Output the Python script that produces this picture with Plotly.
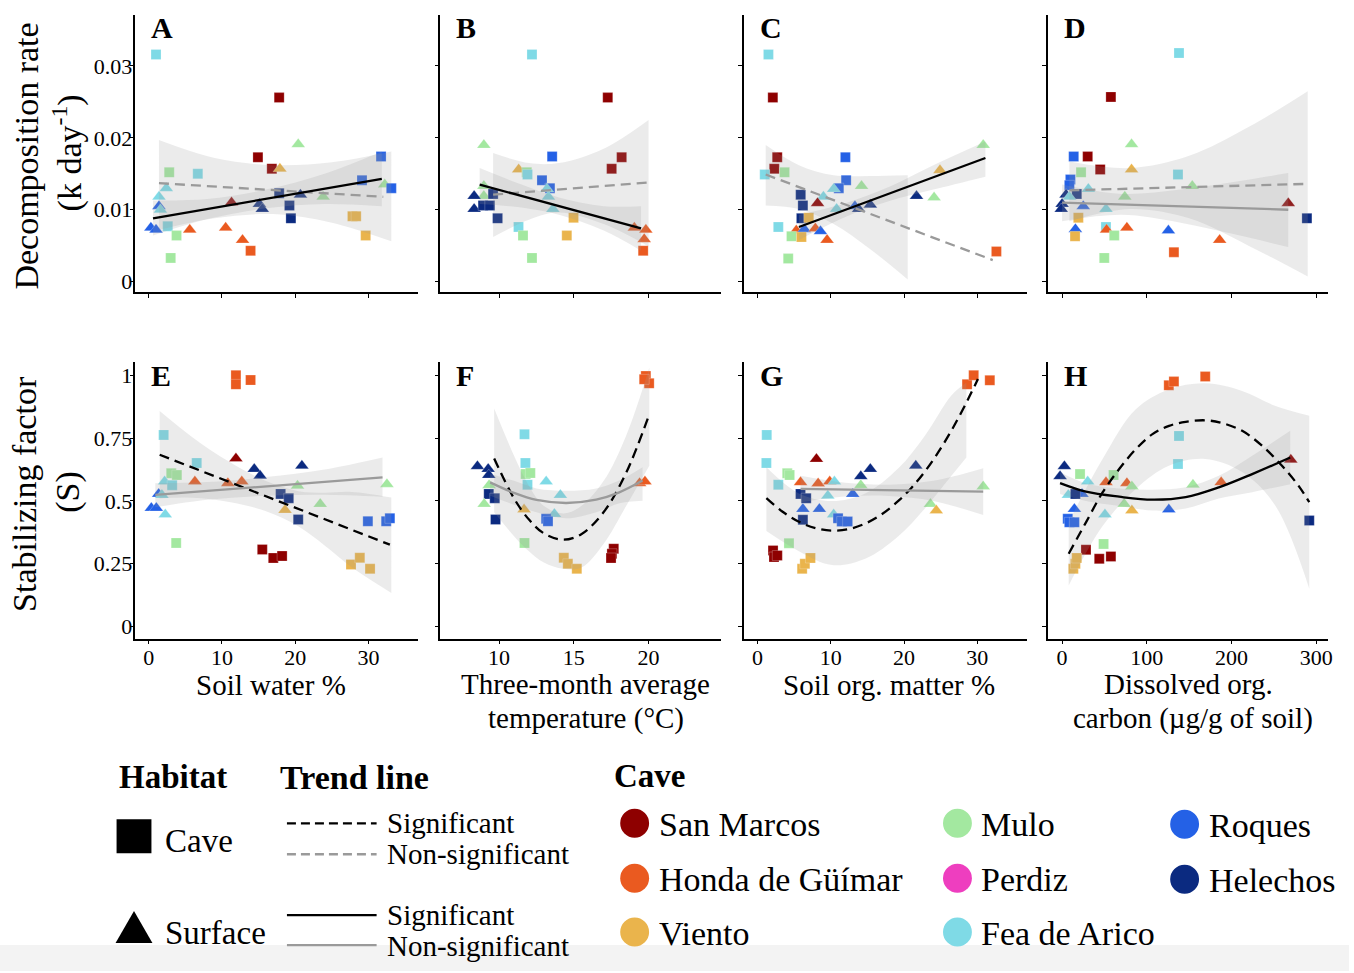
import plotly.graph_objects as go

W, H = 1354, 973
FONT = "Liberation Serif"

# ---------------- categories ----------------
CAVE_CODES = ["SM", "HG", "VI", "MU", "PE", "FA", "RO", "HE"]
CAVE_NAMES = ["San Marcos", "Honda de Güímar", "Viento", "Mulo", "Perdiz",
              "Fea de Arico", "Roques", "Helechos"]
CAVE_COLORS = ["#8E0000", "#EA5A20", "#EAB44C", "#A3E8A0", "#EE3EBF",
               "#7FDAE6", "#2461E6", "#0B2A80"]
HABITATS = ["C", "S"]            # C = Cave (square), S = Surface (triangle)

# ---------------- panel A : soil water vs decomposition ----------------
A_x = [1.0, 17.8, 20.4, 14.9, 16.8, 17.9, 2.8, 6.7, 31.7, 29.1, 32.2, 33.1, 2.4, 1.4, 17.8, 20.7, 23.8,
       15.1, 15.5, 11.3, 19.2, 19.4, 1.4, 1.6, 0.3, 1.0, 2.6, 3.8, 5.6, 10.5, 12.8, 13.9, 3.0, 27.8, 28.3, 29.6]
A_y = [0.0316, 0.0256, 0.0191, 0.0173, 0.0157, 0.0157, 0.0152, 0.0150, 0.0174, 0.0141, 0.0135, 0.0130,
       0.0130, 0.0118, 0.0123, 0.0121, 0.0118, 0.0108, 0.0101, 0.0110, 0.0106, 0.0088, 0.0105, 0.0100,
       0.0075, 0.0072, 0.0077, 0.0064, 0.0072, 0.0075, 0.0058, 0.0043, 0.0033, 0.0091, 0.0091, 0.0064]
A_cave = ["FA", "SM", "MU", "SM", "SM", "VI", "MU", "FA", "RO", "RO", "MU", "RO", "FA", "FA", "HE", "HE", "MU",
          "HE", "HE", "SM", "HE", "HE", "RO", "FA", "RO", "RO", "FA", "MU", "HG", "HG", "HG", "HG", "MU", "VI", "VI", "VI"]
A_hab = ["C", "C", "S", "C", "C", "S", "C", "C", "C", "C", "S", "C", "S", "S", "C", "S", "S",
         "S", "S", "S", "C", "C", "S", "S", "S", "S", "C", "C", "S", "S", "S", "C", "C", "C", "C", "C"]

# ---------------- panel B : temperature vs decomposition ----------------
B_x = [12.2, 17.27, 8.98, 13.55, 18.2, 17.53, 11.31, 11.85, 11.9, 12.87, 13.4, 13.2, 13.3, 13.6, 8.98, 8.98,
       8.33, 8.33, 8.93, 9.38, 9.6, 9.9, 11.3, 11.6, 12.2, 14.98, 14.53, 19.05, 19.82, 19.71, 19.64]
B_y = [0.0316, 0.0256, 0.0190, 0.0174, 0.0173, 0.0157, 0.0156, 0.0152, 0.0149, 0.0141, 0.0130, 0.0129,
       0.0118, 0.0101, 0.0133, 0.0119, 0.0119, 0.0101, 0.0106, 0.0106, 0.0122, 0.0088, 0.0076, 0.0064,
       0.0033, 0.0089, 0.0064, 0.0075, 0.0072, 0.0059, 0.0043]
B_cave = ["FA", "SM", "MU", "RO", "SM", "SM", "VI", "MU", "FA", "RO", "RO", "FA", "FA", "FA", "MU", "MU",
          "HE", "HE", "HE", "HE", "HE", "HE", "FA", "MU", "MU", "VI", "VI", "HG", "HG", "HG", "HG"]
B_hab = ["C", "C", "S", "C", "C", "C", "S", "C", "C", "C", "C", "S", "S", "S", "S", "S",
         "S", "S", "C", "C", "C", "C", "C", "C", "C", "C", "C", "S", "S", "S", "C"]

# ---------------- panel C : soil organic matter vs decomposition ----------------
C_x = [1.5, 2.1, 2.7, 2.3, 1.0, 3.7, 30.8, 24.9, 12.0, 12.1, 11.1, 10.4, 14.2, 5.9, 9.0, 8.2, 6.2, 21.7,
       24.1, 10.8, 13.3, 13.8, 15.4, 6.0, 7.0, 2.85, 5.3, 6.4, 7.9, 8.6, 9.5, 4.65, 6.0, 4.2, 32.6]
C_y = [0.0316, 0.0256, 0.0173, 0.0157, 0.0149, 0.0152, 0.0190, 0.0155, 0.0173, 0.0141, 0.0130, 0.0129,
       0.0133, 0.0121, 0.0118, 0.0109, 0.0106, 0.0119, 0.0117, 0.0101, 0.0105, 0.0101, 0.0107, 0.0088,
       0.0089, 0.0076, 0.0071, 0.0073, 0.0074, 0.0070, 0.0058, 0.0063, 0.0062, 0.0032, 0.0042]
C_cave = ["FA", "SM", "SM", "SM", "FA", "MU", "MU", "VI", "RO", "RO", "RO", "FA", "MU", "HE", "FA", "SM", "HE",
          "HE", "MU", "FA", "RO", "HE", "HE", "HE", "VI", "FA", "HG", "RO", "HG", "RO", "HG", "MU", "VI", "MU", "HG"]
C_hab = ["C", "C", "C", "C", "C", "C", "S", "S", "C", "C", "C", "S", "S", "C", "S", "S", "C",
         "S", "S", "S", "S", "S", "S", "C", "C", "C", "S", "S", "S", "S", "S", "C", "C", "C", "C"]

# ---------------- panel D : dissolved organic carbon vs decomposition ----------------
D_x = [138, 57.6, 82, 13.7, 30.2, 45, 82, 22.4, 136.8, 9.8, 8.6, 31, 153.7, 17.3, 4.7, 8.6, 0, -1, 74, 25,
       51.8, 267, 289, 19.2, 51.8, 15.7, 52.5, 76.5, 125.5, 61.6, 15.3, 186, 132, 49.8]
D_y = [0.0318, 0.0257, 0.0191, 0.0174, 0.0174, 0.0156, 0.0156, 0.0152, 0.0149, 0.0142, 0.0134, 0.0129,
       0.0133, 0.0122, 0.0121, 0.0118, 0.0108, 0.0101, 0.0118, 0.0105, 0.0101, 0.0109, 0.0088, 0.0089,
       0.0076, 0.0073, 0.0072, 0.0075, 0.0071, 0.0064, 0.0063, 0.0058, 0.0041, 0.0033]
D_cave = ["FA", "SM", "MU", "RO", "SM", "SM", "VI", "MU", "FA", "RO", "RO", "FA", "MU", "HE", "HE", "FA", "HE",
          "HE", "MU", "RO", "FA", "SM", "HE", "VI", "FA", "RO", "HG", "HG", "RO", "MU", "VI", "HG", "HG", "MU"]
D_hab = ["C", "C", "S", "C", "C", "C", "S", "C", "C", "C", "C", "S", "S", "C", "S", "S", "S",
         "S", "S", "S", "S", "S", "C", "C", "C", "S", "S", "S", "S", "C", "C", "S", "C", "C"]

# ---------------- panel E : soil water vs stabilizing factor ----------------
E_x = [11.9, 11.9, 13.9, 2.04, 11.9, 6.55, 20.9, 14.4, 15.2, 3.08, 3.84, 6.3, 10.8, 12.7, 2.17, 3.2, 20.3,
       32.5, 1.36, 1.8, 18.0, 19.1, 0.36, 1.04, 23.4, 18.6, 2.26, 20.4, 29.9, 32.4, 32.9, 3.75, 15.5, 17.0,
       18.2, 27.6, 28.8, 30.2]
E_y = [1.0, 0.964, 0.981, 0.763, 0.669, 0.651, 0.640, 0.627, 0.600, 0.610, 0.603, 0.577, 0.571, 0.577,
       0.577, 0.563, 0.561, 0.567, 0.528, 0.524, 0.528, 0.511, 0.472, 0.472, 0.488, 0.464, 0.446, 0.426,
       0.419, 0.419, 0.431, 0.333, 0.307, 0.273, 0.281, 0.247, 0.274, 0.230]
E_cave = ["HG", "HG", "HG", "FA", "SM", "FA", "HE", "HE", "HE", "MU", "MU", "HG", "HG", "HG", "FA", "FA", "MU",
          "MU", "RO", "FA", "HE", "HE", "RO", "RO", "MU", "VI", "FA", "HE", "RO", "RO", "RO", "MU", "SM", "SM",
          "SM", "VI", "VI", "VI"]
E_hab = ["C", "C", "C", "C", "S", "C", "S", "S", "S", "C", "C", "S", "S", "S", "S", "C", "S",
         "S", "S", "S", "C", "C", "S", "S", "S", "S", "S", "C", "C", "C", "C", "C", "C", "C",
         "C", "C", "C", "C"]

# ---------------- panel F : temperature vs stabilizing factor ----------------
F_x = [19.82, 20.04, 19.71, 11.7, 11.76, 11.78, 12.09, 11.9, 8.55, 9.27, 9.31, 9.33, 13.15, 19.4, 19.76,
       14.1, 9.31, 9.71, 9.0, 11.67, 13.7, 13.15, 13.27, 9.76, 11.7, 17.67, 17.55, 17.49, 14.33, 14.6, 15.2]
F_y = [0.997, 0.968, 0.984, 0.765, 0.651, 0.607, 0.611, 0.565, 0.638, 0.627, 0.603, 0.563, 0.577, 0.571,
       0.577, 0.524, 0.528, 0.511, 0.488, 0.466, 0.448, 0.429, 0.419, 0.426, 0.333, 0.310, 0.290, 0.273,
       0.274, 0.250, 0.230]
F_cave = ["HG", "HG", "HG", "FA", "FA", "MU", "MU", "FA", "HE", "HE", "HE", "MU", "FA", "HG", "HG",
          "FA", "HE", "HE", "MU", "VI", "FA", "RO", "RO", "HE", "MU", "SM", "SM", "SM", "VI", "VI", "VI"]
F_hab = ["C", "C", "C", "C", "C", "C", "C", "C", "S", "S", "S", "S", "S", "S", "S",
         "S", "C", "C", "S", "S", "S", "C", "C", "C", "C", "C", "C", "C", "C", "C", "C"]

# ---------------- panel G : soil organic matter vs stabilizing factor ----------------
G_x = [28.6, 29.5, 31.7, 1.27, 1.22, 8.05, 15.4, 14.1, 21.6, 4.07, 4.39, 5.88, 8.28, 9.86, 10.5, 2.85, 14.1,
       30.8, 9.6, 13.0, 5.88, 6.65, 23.6, 24.4, 6.2, 8.45, 10.4, 6.2, 11.0, 11.5, 12.3, 4.3, 2.13, 2.26, 2.71,
       6.1, 6.47, 7.23]
G_y = [0.964, 1.0, 0.980, 0.763, 0.651, 0.667, 0.627, 0.598, 0.640, 0.610, 0.603, 0.574, 0.570, 0.577,
       0.577, 0.565, 0.563, 0.558, 0.521, 0.528, 0.528, 0.511, 0.488, 0.462, 0.468, 0.468, 0.446, 0.425,
       0.431, 0.418, 0.418, 0.332, 0.303, 0.277, 0.283, 0.230, 0.250, 0.273]
G_cave = ["HG", "HG", "HG", "FA", "FA", "SM", "HE", "HE", "HE", "MU", "MU", "HG", "HG", "HG", "FA", "FA", "MU",
          "MU", "FA", "RO", "HE", "HE", "MU", "VI", "RO", "RO", "FA", "HE", "RO", "RO", "RO", "MU", "SM", "SM", "SM",
          "VI", "VI", "VI"]
G_hab = ["C", "C", "C", "C", "C", "S", "S", "S", "S", "C", "C", "S", "S", "S", "S", "C", "S",
         "S", "S", "S", "C", "C", "S", "S", "S", "S", "S", "C", "C", "C", "C", "C", "C", "C", "C",
         "C", "C", "C"]

# ---------------- panel H : dissolved organic carbon vs stabilizing factor ----------------
H_x = [126, 132, 169, 138, 136.8, 2.7, -2.4, 270, 21.2, 60.8, 30.2, 51.8, 76.5, 187.8, 82.4, 154.5, 7.4, 23.5,
       15.7, 73.3, 14.5, 82.4, 126, 50.6, 6.7, 8.6, 14.5, 291.8, 49, 28.2, 43.9, 57.6, 13.3, 15.7, 17.3]
H_y = [0.960, 0.975, 0.995, 0.759, 0.647, 0.638, 0.598, 0.664, 0.607, 0.603, 0.577, 0.574, 0.571, 0.574,
       0.558, 0.565, 0.524, 0.528, 0.528, 0.488, 0.468, 0.462, 0.466, 0.446, 0.429, 0.415, 0.415, 0.422,
       0.329, 0.306, 0.270, 0.279, 0.230, 0.250, 0.273]
H_cave = ["HG", "HG", "HG", "FA", "FA", "HE", "HE", "SM", "MU", "MU", "FA", "HG", "HG", "HG", "MU", "MU", "FA",
          "RO", "HE", "MU", "RO", "VI", "RO", "FA", "RO", "RO", "RO", "HE", "MU", "SM", "SM", "SM", "VI", "VI", "VI"]
H_hab = ["C", "C", "C", "C", "C", "S", "S", "S", "C", "C", "S", "S", "S", "S", "S", "S", "S",
         "S", "C", "S", "S", "S", "S", "S", "C", "C", "C", "C", "C", "C", "C", "C", "C", "C", "C"]

# ---------------- fitted trend lines and confidence bands ----------------
# each: line x, line y, band x, band low, band high, habitat, significant
A_cave_fit = ([1.4, 32.0], [0.0137, 0.0118],
              [1.4, 9, 17, 25, 33.1], [0.0072, 0.0088, 0.0094, 0.0082, 0.0056],
              [0.0197, 0.0172, 0.0162, 0.0166, 0.0181], "C", False)
A_surf_fit = ([0.59, 31.8], [0.0088, 0.0143],
              [0.59, 8, 16, 24, 31.8], [0.0064, 0.0087, 0.0102, 0.0108, 0.0105],
              [0.0113, 0.0115, 0.0128, 0.0150, 0.0181], "S", True)
B_cave_fit = ([9.6, 20.0], [0.0121, 0.0138],
              [9.6, 12, 14, 17, 20.0], [0.0062, 0.0086, 0.0096, 0.0080, 0.0049],
              [0.0179, 0.0165, 0.0165, 0.0185, 0.0225], "C", False)
B_surf_fit = ([8.7, 19.5], [0.0135, 0.0074],
              [8.7, 11.5, 14, 17, 19.5], [0.0108, 0.0103, 0.0093, 0.0071, 0.0043],
              [0.0158, 0.0135, 0.0117, 0.0105, 0.0105], "S", True)
C_cave_fit = ([1.13, 32.1], [0.0149, 0.0030],
              [1.13, 5.66, 10.4, 15.4, 20.5], [0.0106, 0.0101, 0.0080, 0.0045, 0.0003],
              [0.0190, 0.0162, 0.0148, 0.0147, 0.0148], "C", False)
C_surf_fit = ([5.66, 31.1], [0.0076, 0.0172],
              [5.66, 12, 18, 24, 31.1], [0.0058, 0.0090, 0.0112, 0.0128, 0.0146],
              [0.0093, 0.0109, 0.0132, 0.0162, 0.0195], "S", True)
D_cave_fit = ([8.6, 290], [0.0127, 0.0136],
              [8.6, 80, 150, 220, 290], [0.0084, 0.0101, 0.0088, 0.0050, 0.0007],
              [0.0167, 0.0158, 0.0175, 0.0215, 0.0265], "C", False)
D_surf_fit = ([0, 267], [0.0110, 0.0100],
              [0, 70, 140, 210, 267], [0.0084, 0.0093, 0.0082, 0.0064, 0.0048],
              [0.0135, 0.0122, 0.0128, 0.0140, 0.0151], "S", False)
E_cave_fit = ([1.5, 32.9], [0.684, 0.326],
              [1.5, 6, 11, 16, 20.4, 24, 27.7, 33.1],
              [0.510, 0.513, 0.496, 0.459, 0.399, 0.323, 0.236, 0.134],
              [0.858, 0.753, 0.656, 0.579, 0.539, 0.533, 0.536, 0.514], "C", True)
E_surf_fit = ([0.9, 31.9], [0.524, 0.594],
              [0.9, 8, 16, 24, 31.9], [0.475, 0.505, 0.521, 0.525, 0.517],
              [0.571, 0.575, 0.595, 0.625, 0.673], "S", False)
F_cave_fit = ([9.67, 11, 12, 13, 14.3, 15.5, 17, 18.5, 20.05],
              [0.669, 0.51, 0.426, 0.371, 0.346, 0.368, 0.456, 0.612, 0.845],
              [9.67, 11, 12, 13, 14.3, 15.5, 17, 18.5, 20.05],
              [0.455, 0.36, 0.30, 0.255, 0.23, 0.235, 0.33, 0.48, 0.64],
              [0.868, 0.68, 0.56, 0.48, 0.45, 0.48, 0.58, 0.76, 1.03], "C", True)
F_surf_fit = ([9.4, 11, 12.5, 14.5, 16.5, 18, 19.6],
              [0.574, 0.532, 0.504, 0.492, 0.505, 0.533, 0.581],
              [9.4, 11, 12.5, 14.5, 16.5, 18, 19.6],
              [0.521, 0.485, 0.455, 0.431, 0.455, 0.49, 0.501],
              [0.607, 0.58, 0.55, 0.541, 0.55, 0.58, 0.634], "S", False)
G_cave_fit = ([1.22, 3.39, 5.66, 7.92, 10.18, 12.44, 14.7, 16.96, 19.22, 21.03, 22.84, 24.65, 26.46, 28.27, 30.08],
              [0.511, 0.458, 0.417, 0.392, 0.382, 0.388, 0.410, 0.447, 0.500, 0.553, 0.617, 0.693, 0.780, 0.878, 0.985],
              [1.22, 5.66, 10.18, 14.7, 19.22, 22.84, 26.46, 28.5],
              [0.38, 0.30, 0.245, 0.27, 0.36, 0.47, 0.60, 0.673],
              [0.634, 0.53, 0.50, 0.53, 0.63, 0.76, 0.92, 0.97], "C", True)
G_surf_fit = ([5.88, 30.8], [0.548, 0.537],
              [5.88, 12, 18, 24, 30.8], [0.495, 0.518, 0.52, 0.50, 0.444],
              [0.600, 0.572, 0.565, 0.58, 0.630], "S", False)
H_cave_fit = ([7.8, 28.2, 47.8, 67.4, 87, 106.7, 126.3, 145.9, 169.4, 189, 212.6, 236, 259.6, 279, 291.8],
              [0.290, 0.415, 0.534, 0.627, 0.706, 0.766, 0.799, 0.815, 0.821, 0.810, 0.779, 0.720, 0.640, 0.561, 0.495],
              [7.8, 47.8, 87, 126, 169, 212.6, 252, 291.8],
              [0.164, 0.40, 0.548, 0.640, 0.667, 0.615, 0.48, 0.151],
              [0.416, 0.667, 0.865, 0.944, 0.968, 0.938, 0.878, 0.839], "C", True)
H_surf_fit = ([-2.4, 28.2, 67.4, 106.7, 145.9, 185, 224.4, 269.4],
              [0.571, 0.537, 0.517, 0.505, 0.515, 0.554, 0.607, 0.673],
              [-2.4, 28.2, 67.4, 106.7, 145.9, 185, 224.4, 269.4],
              [0.528, 0.50, 0.48, 0.462, 0.47, 0.51, 0.535, 0.567],
              [0.614, 0.57, 0.55, 0.545, 0.555, 0.60, 0.68, 0.779], "S", True)

# ---------------- axis tick labels ----------------
X_TICKS = [[0, 10, 20, 30], [10, 15, 20], [0, 10, 20, 30], [0, 100, 200, 300]]
Y_TICKS_TOP = [0, 0.01, 0.02, 0.03]
Y_TICKTEXT_TOP = ["0", "0.01", "0.02", "0.03"]
Y_TICKS_BOT = [0, 0.25, 0.5, 0.75, 1]
Y_TICKTEXT_BOT = ["0", "0.25", "0.5", "0.75", "1"]
PANEL_LABELS = ["A", "B", "C", "D", "E", "F", "G", "H"]

# ---------------- layout geometry (pixels) ----------------
COL_PX = [(136, 420), (442, 724), (747, 1031), (1052, 1333)]
ROW_PX = [(15, 293), (363, 640)]
X_RANGES = [[-1.8, 36.8], [6.07, 24.87], [-1.8, 36.8], [-16.5, 314]]
Y_RANGES = [[-0.0015, 0.0371], [-0.048, 1.052]]


def px(x):
    return x / W


def py(y):
    return 1 - y / H


color_of = dict(zip(CAVE_CODES, CAVE_COLORS))
symbol_of = {"C": "square", "S": "triangle-up"}
size_of = {"C": 10, "S": 12}
BAND_FILL = "rgba(153,153,153,0.2)"

panels = [
    (A_x, A_y, A_cave, A_hab, [A_cave_fit, A_surf_fit]),
    (B_x, B_y, B_cave, B_hab, [B_cave_fit, B_surf_fit]),
    (C_x, C_y, C_cave, C_hab, [C_cave_fit, C_surf_fit]),
    (D_x, D_y, D_cave, D_hab, [D_cave_fit, D_surf_fit]),
    (E_x, E_y, E_cave, E_hab, [E_cave_fit, E_surf_fit]),
    (F_x, F_y, F_cave, F_hab, [F_cave_fit, F_surf_fit]),
    (G_x, G_y, G_cave, G_hab, [G_cave_fit, G_surf_fit]),
    (H_x, H_y, H_cave, H_hab, [H_cave_fit, H_surf_fit]),
]

fig = go.Figure()
layout_axes = {}
annotations = []

for k, (xs, ys, caves, habs, fits) in enumerate(panels):
    row, col = divmod(k, 4)
    sfx = "" if k == 0 else str(k + 1)
    xref, yref = "x" + sfx, "y" + sfx

    # points
    fig.add_trace(go.Scatter(
        x=xs, y=ys, mode="markers", xaxis=xref, yaxis=yref, showlegend=False, hoverinfo="skip",
        marker=dict(color=[color_of[c] for c in caves], symbol=[symbol_of[h] for h in habs],
                    size=[size_of[h] for h in habs], opacity=1,
                    line=dict(color="rgba(255,255,255,0.6)", width=0.4))))
    # confidence bands (lower edge, then upper edge filled down to it)
    for fx, fy, bx, lo, hi, hab, sig in fits:
        fig.add_trace(go.Scatter(
            x=bx, y=lo, mode="lines", line=dict(width=0, shape="spline", color="rgba(0,0,0,0)"),
            xaxis=xref, yaxis=yref, showlegend=False, hoverinfo="skip"))
        fig.add_trace(go.Scatter(
            x=bx, y=hi, mode="lines", fill="tonexty", fillcolor=BAND_FILL,
            line=dict(width=0, shape="spline", color="rgba(0,0,0,0)"),
            xaxis=xref, yaxis=yref, showlegend=False, hoverinfo="skip"))
    # trend lines
    for fx, fy, bx, lo, hi, hab, sig in fits:
        fig.add_trace(go.Scatter(
            x=fx, y=fy, mode="lines", xaxis=xref, yaxis=yref, showlegend=False, hoverinfo="skip",
            line=dict(color="black" if sig else "#9A9A9A", width=2.3, shape="spline",
                      dash="10px,6px" if hab == "C" else "solid")))

    x0, x1 = COL_PX[col]
    y0, y1 = ROW_PX[row]
    layout_axes["xaxis" + sfx] = dict(
        domain=[px(x0), px(x1)], range=X_RANGES[col], anchor=yref,
        showline=True, linecolor="black", linewidth=1.6, ticks="outside", ticklen=4, tickwidth=1.3,
        tickcolor="black", tickvals=X_TICKS[col], ticktext=[str(v) for v in X_TICKS[col]],
        showticklabels=(row == 1), ticklabelstandoff=-6, showgrid=False, zeroline=False,
        tickfont=dict(family=FONT, size=22, color="black"), fixedrange=True)
    layout_axes["yaxis" + sfx] = dict(
        domain=[py(y1), py(y0)], range=Y_RANGES[row], anchor=xref,
        showline=True, linecolor="black", linewidth=1.6, ticks="outside", ticklen=4, tickwidth=1.3,
        tickcolor="black",
        tickvals=Y_TICKS_TOP if row == 0 else Y_TICKS_BOT,
        ticktext=Y_TICKTEXT_TOP if row == 0 else Y_TICKTEXT_BOT,
        showticklabels=(col == 0), ticklabelstandoff=-7, showgrid=False, zeroline=False,
        tickfont=dict(family=FONT, size=22, color="black"), fixedrange=True)

    # panel letter
    annotations.append(dict(text="<b>%s</b>" % PANEL_LABELS[k], x=px(x0 + 14), y=py(y0 + 13),
                            xref="paper", yref="paper", showarrow=False, xanchor="left", yanchor="middle",
                            font=dict(family=FONT, size=30, color="black")))


def ann(text, x, y, size, xanchor="center", angle=0):
    annotations.append(dict(text=text, x=px(x), y=py(y), xref="paper", yref="paper", showarrow=False,
                            xanchor=xanchor, yanchor="middle", textangle=angle,
                            font=dict(family=FONT, size=size, color="black")))


# axis titles
ann("Decomposition rate", 27, 156, 34, angle=-90)
ann("(k day<sup>-1</sup>)", 68, 153, 34, angle=-90)
ann("Stabilizing factor", 25, 495, 34, angle=-90)
ann("(S)", 68, 493, 34, angle=-90)
ann("Soil water %", 272, 686, 29)
ann("Three-month average", 588, 685, 29)
ann("temperature (°C)", 588, 720, 29)
ann("Soil org. matter %", 892, 686, 29)
ann("Dissolved org.", 1193, 685, 29)
ann("carbon (µg/g of soil)", 1197, 720, 29)

# legend texts
ann("<b>Habitat</b>", 117, 779, 33, xanchor="left")
ann("<b>Trend line</b>", 279, 779, 34, xanchor="left")
ann("<b>Cave</b>", 614, 778, 33, xanchor="left")
ann("Cave", 164, 843, 33, xanchor="left")
ann("Surface", 164, 935, 33, xanchor="left")
ann("Significant", 386, 825, 29, xanchor="left")
ann("Non-significant", 386, 856, 29, xanchor="left")
ann("Significant", 386, 917, 29, xanchor="left")
ann("Non-significant", 386, 948, 29, xanchor="left")

LEG_POS = [(637, 825), (637, 880), (637, 934), (961, 825), (961, 880), (961, 934), (1189, 826), (1189, 881)]
shapes = [dict(type="rect", xref="paper", yref="paper", x0=0, x1=1, y0=0, y1=py(947),
               fillcolor="#F3F3F3", line=dict(width=0), layer="below")]
for name, colr, (cx, cy) in zip(CAVE_NAMES, CAVE_COLORS, LEG_POS):
    shapes.append(dict(type="circle", xref="paper", yref="paper", x0=px(cx - 14.5), x1=px(cx + 14.5),
                       y0=py(cy + 14.5), y1=py(cy - 14.5), fillcolor=colr, line=dict(width=0)))
    ann(name, cx + 22, cy + 1, 34, xanchor="left")

shapes.append(dict(type="rect", xref="paper", yref="paper", x0=px(117), x1=px(152), y0=py(855), y1=py(821),
                   fillcolor="black", line=dict(width=0)))
shapes.append(dict(type="path", xref="paper", yref="paper",
                   path="M %f,%f L %f,%f L %f,%f Z" % (px(116), py(945), px(134.5), py(913), px(153), py(945)),
                   fillcolor="black", line=dict(width=0)))
for yy, colr, dash in [(825, "black", "9px,5px"), (856, "#9A9A9A", "9px,5px"),
                       (917, "black", "solid"), (947, "#9A9A9A", "solid")]:
    shapes.append(dict(type="line", xref="paper", yref="paper", x0=px(288), x1=px(378), y0=py(yy), y1=py(yy),
                       line=dict(color=colr, width=2.3, dash=dash)))

fig.update_layout(
    width=W, height=H, margin=dict(l=0, r=0, t=0, b=0),
    paper_bgcolor="white", plot_bgcolor="rgba(0,0,0,0)",
    showlegend=False, annotations=annotations, shapes=shapes,
    font=dict(family=FONT, color="black"), **layout_axes)

fig.write_html("out.html")
